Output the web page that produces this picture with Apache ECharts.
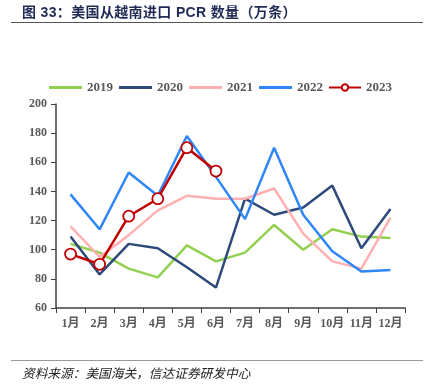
<!DOCTYPE html>
<html><head><meta charset="utf-8">
<script src="https://cdn.jsdelivr.net/npm/echarts@6/dist/echarts.min.js"></script>
<style>
html,body{margin:0;padding:0;background:#fff;}
#wrap{position:relative;width:428px;height:388px;}
#chart{position:absolute;left:0;top:0;width:428px;height:388px;}
.title{position:absolute;left:22px;top:1px;font:bold 14px "Liberation Sans","Noto Sans CJK SC",sans-serif;color:#1f2b55;white-space:nowrap;letter-spacing:0.35px;}
.line1{position:absolute;left:11px;top:22px;width:412px;height:0;border-top:1.5px solid #555;}
.line2{position:absolute;left:11px;top:360px;width:412px;height:0;border-top:1.5px solid #999;}
.src{position:absolute;left:22px;top:363px;font:italic 12.7px "Noto Sans CJK SC",serif;color:#222;white-space:nowrap;}
</style></head>
<body><div id="wrap">
<div id="chart"></div>
<div class="title">图 33：美国从越南进口 PCR 数量（万条）</div>
<div class="line1"></div>
<div class="line2"></div>
<div class="src">资料来源：美国海关，信达证券研发中心</div>
</div>
<script>
const months = ['1月','2月','3月','4月','5月','6月','7月','8月','9月','10月','11月','12月'];
const s2019 = [104, 98, 87, 81, 103, 92, 98, 117, 100, 114, 109, 108];
const s2020 = [109, 83, 104, 101, 88, 74, 135, 124, 129, 144, 101, 128];
const s2021 = [116, 95, 110, 127, 137, 135, 135, 142, 111, 92, 87, 122];
const s2022 = [138, 114, 153, 137, 178, 150, 121, 170, 124, 99, 85, 86];
const s2023 = [97, 90, 123, 135, 170, 154];
const chart = echarts.init(document.getElementById('chart'));
const lbl = {fontFamily:'"Liberation Serif","Noto Sans CJK SC",serif',fontWeight:'bold',fontSize:12,color:'#595959'};
const lgd = Object.assign({}, lbl, {fontSize:13});
function line(name, data, color){
  return {name, type:'line', data, symbol:'none', lineStyle:{width:2.5,color}, itemStyle:{color}};
}
chart.setOption({
  animation:false,
  legend:[
    {top:81,left:49,padding:0,itemWidth:33,itemHeight:3,itemGap:6,icon:'rect',
     textStyle:lgd,data:['2019','2020','2021','2022']},
    {top:81,left:328,padding:0,itemWidth:32,itemHeight:8,
     textStyle:lgd,data:['2023']}
  ],
  grid:{left:56,right:23,top:104,bottom:80},
  xAxis:{type:'category',data:months,boundaryGap:true,
    axisLine:{lineStyle:{color:'#404040',width:1.5}},
    axisTick:{show:true,length:5,lineStyle:{color:'#404040'}},
    axisLabel:Object.assign({},lbl,{margin:10,interval:0})},
  yAxis:{type:'value',min:60,max:200,interval:20,
    axisLine:{show:true,lineStyle:{color:'#404040',width:1.5}},
    axisTick:{show:true,length:5,lineStyle:{color:'#404040'}},
    splitLine:{show:false},
    axisLabel:Object.assign({},lbl,{margin:9})},
  series:[
    line('2019', s2019, '#92d050'),
    line('2020', s2020, '#2e4a7a'),
    line('2021', s2021, '#ffb0b0'),
    line('2022', s2022, '#2f86f6'),
    {name:'2023',type:'line',data:s2023,symbol:'circle',symbolSize:11,
     lineStyle:{width:2.5,color:'#c00000'},
     itemStyle:{color:'#fff',borderColor:'#c00000',borderWidth:1.8}}
  ]
});
</script>
</body></html>
